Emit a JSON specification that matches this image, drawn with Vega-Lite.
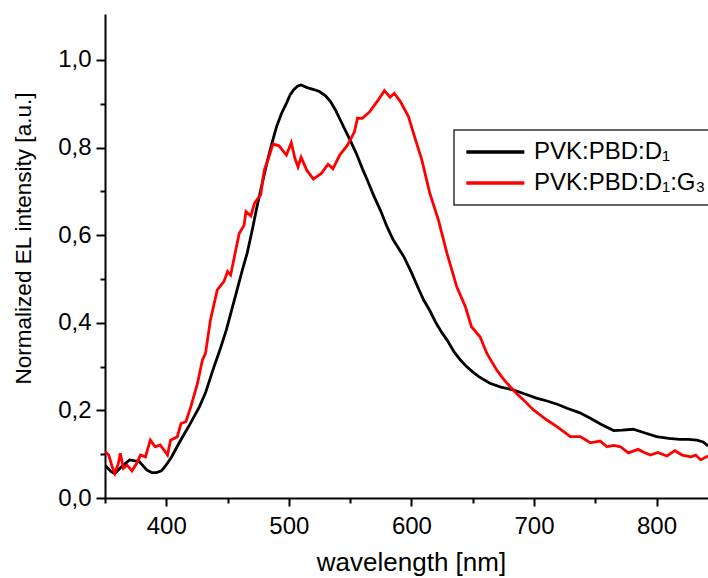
{
  "$schema": "https://vega.github.io/schema/vega-lite/v6.json",
  "width": 603,
  "height": 484,
  "autosize": "none",
  "padding": {"left": 105, "top": 14, "right": 0, "bottom": 80},
  "background": "white",
  "config": {
    "view": {"stroke": null},
    "font": "Liberation Sans",
    "axis": {"grid": false, "domainColor": "black", "domainWidth": 2, "tickColor": "black", "tickWidth": 2, "labelColor": "black", "titleColor": "black", "labelFont": "Liberation Sans", "titleFont": "Liberation Sans", "titleFontWeight": "normal"}
  },
  "datasets": {
    "spectra": [
      {"wl": 350, "v": 0.075, "s": "PVK:PBD:D₁"},
      {"wl": 355, "v": 0.060, "s": "PVK:PBD:D₁"},
      {"wl": 358, "v": 0.056, "s": "PVK:PBD:D₁"},
      {"wl": 363, "v": 0.070, "s": "PVK:PBD:D₁"},
      {"wl": 370, "v": 0.087, "s": "PVK:PBD:D₁"},
      {"wl": 378, "v": 0.083, "s": "PVK:PBD:D₁"},
      {"wl": 384, "v": 0.064, "s": "PVK:PBD:D₁"},
      {"wl": 388, "v": 0.058, "s": "PVK:PBD:D₁"},
      {"wl": 392, "v": 0.058, "s": "PVK:PBD:D₁"},
      {"wl": 396, "v": 0.062, "s": "PVK:PBD:D₁"},
      {"wl": 399, "v": 0.072, "s": "PVK:PBD:D₁"},
      {"wl": 404, "v": 0.092, "s": "PVK:PBD:D₁"},
      {"wl": 408, "v": 0.113, "s": "PVK:PBD:D₁"},
      {"wl": 413, "v": 0.138, "s": "PVK:PBD:D₁"},
      {"wl": 419, "v": 0.167, "s": "PVK:PBD:D₁"},
      {"wl": 427, "v": 0.208, "s": "PVK:PBD:D₁"},
      {"wl": 432, "v": 0.240, "s": "PVK:PBD:D₁"},
      {"wl": 438, "v": 0.292, "s": "PVK:PBD:D₁"},
      {"wl": 444, "v": 0.340, "s": "PVK:PBD:D₁"},
      {"wl": 449, "v": 0.384, "s": "PVK:PBD:D₁"},
      {"wl": 457, "v": 0.467, "s": "PVK:PBD:D₁"},
      {"wl": 462, "v": 0.520, "s": "PVK:PBD:D₁"},
      {"wl": 466, "v": 0.559, "s": "PVK:PBD:D₁"},
      {"wl": 470, "v": 0.610, "s": "PVK:PBD:D₁"},
      {"wl": 474, "v": 0.665, "s": "PVK:PBD:D₁"},
      {"wl": 478, "v": 0.715, "s": "PVK:PBD:D₁"},
      {"wl": 482, "v": 0.764, "s": "PVK:PBD:D₁"},
      {"wl": 486, "v": 0.808, "s": "PVK:PBD:D₁"},
      {"wl": 490, "v": 0.848, "s": "PVK:PBD:D₁"},
      {"wl": 494, "v": 0.878, "s": "PVK:PBD:D₁"},
      {"wl": 498, "v": 0.901, "s": "PVK:PBD:D₁"},
      {"wl": 501, "v": 0.920, "s": "PVK:PBD:D₁"},
      {"wl": 504, "v": 0.932, "s": "PVK:PBD:D₁"},
      {"wl": 507, "v": 0.940, "s": "PVK:PBD:D₁"},
      {"wl": 510, "v": 0.943, "s": "PVK:PBD:D₁"},
      {"wl": 514, "v": 0.938, "s": "PVK:PBD:D₁"},
      {"wl": 517, "v": 0.935, "s": "PVK:PBD:D₁"},
      {"wl": 521, "v": 0.932, "s": "PVK:PBD:D₁"},
      {"wl": 525, "v": 0.928, "s": "PVK:PBD:D₁"},
      {"wl": 530, "v": 0.918, "s": "PVK:PBD:D₁"},
      {"wl": 534, "v": 0.905, "s": "PVK:PBD:D₁"},
      {"wl": 538, "v": 0.886, "s": "PVK:PBD:D₁"},
      {"wl": 542, "v": 0.863, "s": "PVK:PBD:D₁"},
      {"wl": 546, "v": 0.840, "s": "PVK:PBD:D₁"},
      {"wl": 550, "v": 0.817, "s": "PVK:PBD:D₁"},
      {"wl": 555, "v": 0.787, "s": "PVK:PBD:D₁"},
      {"wl": 560, "v": 0.752, "s": "PVK:PBD:D₁"},
      {"wl": 564, "v": 0.726, "s": "PVK:PBD:D₁"},
      {"wl": 569, "v": 0.692, "s": "PVK:PBD:D₁"},
      {"wl": 575, "v": 0.655, "s": "PVK:PBD:D₁"},
      {"wl": 580, "v": 0.620, "s": "PVK:PBD:D₁"},
      {"wl": 585, "v": 0.590, "s": "PVK:PBD:D₁"},
      {"wl": 590, "v": 0.568, "s": "PVK:PBD:D₁"},
      {"wl": 594, "v": 0.550, "s": "PVK:PBD:D₁"},
      {"wl": 600, "v": 0.515, "s": "PVK:PBD:D₁"},
      {"wl": 605, "v": 0.483, "s": "PVK:PBD:D₁"},
      {"wl": 610, "v": 0.452, "s": "PVK:PBD:D₁"},
      {"wl": 615, "v": 0.428, "s": "PVK:PBD:D₁"},
      {"wl": 620, "v": 0.400, "s": "PVK:PBD:D₁"},
      {"wl": 625, "v": 0.377, "s": "PVK:PBD:D₁"},
      {"wl": 629, "v": 0.361, "s": "PVK:PBD:D₁"},
      {"wl": 635, "v": 0.333, "s": "PVK:PBD:D₁"},
      {"wl": 640, "v": 0.315, "s": "PVK:PBD:D₁"},
      {"wl": 645, "v": 0.300, "s": "PVK:PBD:D₁"},
      {"wl": 650, "v": 0.288, "s": "PVK:PBD:D₁"},
      {"wl": 655, "v": 0.277, "s": "PVK:PBD:D₁"},
      {"wl": 664, "v": 0.262, "s": "PVK:PBD:D₁"},
      {"wl": 673, "v": 0.253, "s": "PVK:PBD:D₁"},
      {"wl": 683, "v": 0.247, "s": "PVK:PBD:D₁"},
      {"wl": 692, "v": 0.238, "s": "PVK:PBD:D₁"},
      {"wl": 702, "v": 0.228, "s": "PVK:PBD:D₁"},
      {"wl": 710, "v": 0.222, "s": "PVK:PBD:D₁"},
      {"wl": 719, "v": 0.214, "s": "PVK:PBD:D₁"},
      {"wl": 727, "v": 0.205, "s": "PVK:PBD:D₁"},
      {"wl": 737, "v": 0.195, "s": "PVK:PBD:D₁"},
      {"wl": 746, "v": 0.182, "s": "PVK:PBD:D₁"},
      {"wl": 755, "v": 0.168, "s": "PVK:PBD:D₁"},
      {"wl": 765, "v": 0.154, "s": "PVK:PBD:D₁"},
      {"wl": 772, "v": 0.155, "s": "PVK:PBD:D₁"},
      {"wl": 781, "v": 0.157, "s": "PVK:PBD:D₁"},
      {"wl": 790, "v": 0.149, "s": "PVK:PBD:D₁"},
      {"wl": 800, "v": 0.140, "s": "PVK:PBD:D₁"},
      {"wl": 810, "v": 0.136, "s": "PVK:PBD:D₁"},
      {"wl": 819, "v": 0.134, "s": "PVK:PBD:D₁"},
      {"wl": 826, "v": 0.134, "s": "PVK:PBD:D₁"},
      {"wl": 833, "v": 0.132, "s": "PVK:PBD:D₁"},
      {"wl": 838, "v": 0.128, "s": "PVK:PBD:D₁"},
      {"wl": 842, "v": 0.119, "s": "PVK:PBD:D₁"},
      {"wl": 350, "v": 0.106, "s": "PVK:PBD:D₁:G₃"},
      {"wl": 353, "v": 0.098, "s": "PVK:PBD:D₁:G₃"},
      {"wl": 356, "v": 0.070, "s": "PVK:PBD:D₁:G₃"},
      {"wl": 358, "v": 0.056, "s": "PVK:PBD:D₁:G₃"},
      {"wl": 361, "v": 0.080, "s": "PVK:PBD:D₁:G₃"},
      {"wl": 362.5, "v": 0.102, "s": "PVK:PBD:D₁:G₃"},
      {"wl": 365, "v": 0.068, "s": "PVK:PBD:D₁:G₃"},
      {"wl": 368, "v": 0.075, "s": "PVK:PBD:D₁:G₃"},
      {"wl": 372, "v": 0.062, "s": "PVK:PBD:D₁:G₃"},
      {"wl": 376, "v": 0.080, "s": "PVK:PBD:D₁:G₃"},
      {"wl": 379, "v": 0.098, "s": "PVK:PBD:D₁:G₃"},
      {"wl": 383, "v": 0.094, "s": "PVK:PBD:D₁:G₃"},
      {"wl": 387, "v": 0.132, "s": "PVK:PBD:D₁:G₃"},
      {"wl": 391, "v": 0.117, "s": "PVK:PBD:D₁:G₃"},
      {"wl": 395, "v": 0.121, "s": "PVK:PBD:D₁:G₃"},
      {"wl": 398, "v": 0.110, "s": "PVK:PBD:D₁:G₃"},
      {"wl": 401, "v": 0.098, "s": "PVK:PBD:D₁:G₃"},
      {"wl": 403.5, "v": 0.132, "s": "PVK:PBD:D₁:G₃"},
      {"wl": 409, "v": 0.140, "s": "PVK:PBD:D₁:G₃"},
      {"wl": 412, "v": 0.170, "s": "PVK:PBD:D₁:G₃"},
      {"wl": 416, "v": 0.174, "s": "PVK:PBD:D₁:G₃"},
      {"wl": 420, "v": 0.208, "s": "PVK:PBD:D₁:G₃"},
      {"wl": 425.5, "v": 0.262, "s": "PVK:PBD:D₁:G₃"},
      {"wl": 429.5, "v": 0.315, "s": "PVK:PBD:D₁:G₃"},
      {"wl": 432, "v": 0.330, "s": "PVK:PBD:D₁:G₃"},
      {"wl": 436, "v": 0.406, "s": "PVK:PBD:D₁:G₃"},
      {"wl": 441.6, "v": 0.475, "s": "PVK:PBD:D₁:G₃"},
      {"wl": 447, "v": 0.494, "s": "PVK:PBD:D₁:G₃"},
      {"wl": 450, "v": 0.517, "s": "PVK:PBD:D₁:G₃"},
      {"wl": 452.5, "v": 0.509, "s": "PVK:PBD:D₁:G₃"},
      {"wl": 455, "v": 0.543, "s": "PVK:PBD:D₁:G₃"},
      {"wl": 459.5, "v": 0.604, "s": "PVK:PBD:D₁:G₃"},
      {"wl": 463.5, "v": 0.623, "s": "PVK:PBD:D₁:G₃"},
      {"wl": 465, "v": 0.654, "s": "PVK:PBD:D₁:G₃"},
      {"wl": 469, "v": 0.644, "s": "PVK:PBD:D₁:G₃"},
      {"wl": 472, "v": 0.673, "s": "PVK:PBD:D₁:G₃"},
      {"wl": 477, "v": 0.692, "s": "PVK:PBD:D₁:G₃"},
      {"wl": 480, "v": 0.749, "s": "PVK:PBD:D₁:G₃"},
      {"wl": 483, "v": 0.772, "s": "PVK:PBD:D₁:G₃"},
      {"wl": 487, "v": 0.808, "s": "PVK:PBD:D₁:G₃"},
      {"wl": 492, "v": 0.804, "s": "PVK:PBD:D₁:G₃"},
      {"wl": 498, "v": 0.783, "s": "PVK:PBD:D₁:G₃"},
      {"wl": 502, "v": 0.811, "s": "PVK:PBD:D₁:G₃"},
      {"wl": 505, "v": 0.775, "s": "PVK:PBD:D₁:G₃"},
      {"wl": 507.5, "v": 0.756, "s": "PVK:PBD:D₁:G₃"},
      {"wl": 510, "v": 0.778, "s": "PVK:PBD:D₁:G₃"},
      {"wl": 514.5, "v": 0.749, "s": "PVK:PBD:D₁:G₃"},
      {"wl": 520, "v": 0.728, "s": "PVK:PBD:D₁:G₃"},
      {"wl": 526.5, "v": 0.741, "s": "PVK:PBD:D₁:G₃"},
      {"wl": 532, "v": 0.762, "s": "PVK:PBD:D₁:G₃"},
      {"wl": 536, "v": 0.752, "s": "PVK:PBD:D₁:G₃"},
      {"wl": 541.5, "v": 0.783, "s": "PVK:PBD:D₁:G₃"},
      {"wl": 548, "v": 0.806, "s": "PVK:PBD:D₁:G₃"},
      {"wl": 553.5, "v": 0.836, "s": "PVK:PBD:D₁:G₃"},
      {"wl": 556, "v": 0.867, "s": "PVK:PBD:D₁:G₃"},
      {"wl": 560, "v": 0.867, "s": "PVK:PBD:D₁:G₃"},
      {"wl": 566, "v": 0.882, "s": "PVK:PBD:D₁:G₃"},
      {"wl": 573, "v": 0.909, "s": "PVK:PBD:D₁:G₃"},
      {"wl": 578, "v": 0.930, "s": "PVK:PBD:D₁:G₃"},
      {"wl": 582.6, "v": 0.915, "s": "PVK:PBD:D₁:G₃"},
      {"wl": 586, "v": 0.924, "s": "PVK:PBD:D₁:G₃"},
      {"wl": 591, "v": 0.905, "s": "PVK:PBD:D₁:G₃"},
      {"wl": 597.6, "v": 0.871, "s": "PVK:PBD:D₁:G₃"},
      {"wl": 603, "v": 0.821, "s": "PVK:PBD:D₁:G₃"},
      {"wl": 608.5, "v": 0.772, "s": "PVK:PBD:D₁:G₃"},
      {"wl": 615, "v": 0.696, "s": "PVK:PBD:D₁:G₃"},
      {"wl": 622, "v": 0.635, "s": "PVK:PBD:D₁:G₃"},
      {"wl": 629, "v": 0.559, "s": "PVK:PBD:D₁:G₃"},
      {"wl": 637, "v": 0.482, "s": "PVK:PBD:D₁:G₃"},
      {"wl": 644, "v": 0.437, "s": "PVK:PBD:D₁:G₃"},
      {"wl": 649, "v": 0.391, "s": "PVK:PBD:D₁:G₃"},
      {"wl": 656, "v": 0.368, "s": "PVK:PBD:D₁:G₃"},
      {"wl": 661.6, "v": 0.330, "s": "PVK:PBD:D₁:G₃"},
      {"wl": 669.7, "v": 0.292, "s": "PVK:PBD:D₁:G₃"},
      {"wl": 675, "v": 0.272, "s": "PVK:PBD:D₁:G₃"},
      {"wl": 680.6, "v": 0.254, "s": "PVK:PBD:D₁:G₃"},
      {"wl": 686, "v": 0.238, "s": "PVK:PBD:D₁:G₃"},
      {"wl": 691.5, "v": 0.224, "s": "PVK:PBD:D₁:G₃"},
      {"wl": 699.6, "v": 0.201, "s": "PVK:PBD:D₁:G₃"},
      {"wl": 705, "v": 0.190, "s": "PVK:PBD:D₁:G₃"},
      {"wl": 710.6, "v": 0.178, "s": "PVK:PBD:D₁:G₃"},
      {"wl": 718.7, "v": 0.163, "s": "PVK:PBD:D₁:G₃"},
      {"wl": 724, "v": 0.152, "s": "PVK:PBD:D₁:G₃"},
      {"wl": 729.6, "v": 0.140, "s": "PVK:PBD:D₁:G₃"},
      {"wl": 737.8, "v": 0.140, "s": "PVK:PBD:D₁:G₃"},
      {"wl": 746, "v": 0.126, "s": "PVK:PBD:D₁:G₃"},
      {"wl": 754, "v": 0.130, "s": "PVK:PBD:D₁:G₃"},
      {"wl": 759.6, "v": 0.117, "s": "PVK:PBD:D₁:G₃"},
      {"wl": 765, "v": 0.120, "s": "PVK:PBD:D₁:G₃"},
      {"wl": 770.6, "v": 0.117, "s": "PVK:PBD:D₁:G₃"},
      {"wl": 777, "v": 0.103, "s": "PVK:PBD:D₁:G₃"},
      {"wl": 785, "v": 0.111, "s": "PVK:PBD:D₁:G₃"},
      {"wl": 790, "v": 0.104, "s": "PVK:PBD:D₁:G₃"},
      {"wl": 795, "v": 0.098, "s": "PVK:PBD:D₁:G₃"},
      {"wl": 801, "v": 0.104, "s": "PVK:PBD:D₁:G₃"},
      {"wl": 808.5, "v": 0.096, "s": "PVK:PBD:D₁:G₃"},
      {"wl": 815, "v": 0.108, "s": "PVK:PBD:D₁:G₃"},
      {"wl": 821, "v": 0.098, "s": "PVK:PBD:D₁:G₃"},
      {"wl": 828, "v": 0.094, "s": "PVK:PBD:D₁:G₃"},
      {"wl": 832, "v": 0.098, "s": "PVK:PBD:D₁:G₃"},
      {"wl": 836, "v": 0.087, "s": "PVK:PBD:D₁:G₃"},
      {"wl": 842, "v": 0.096, "s": "PVK:PBD:D₁:G₃"}
    ]
  },
  "data": {"name": "spectra"},
  "mark": {"type": "line", "strokeWidth": 2.8, "clip": true},
  "encoding": {
    "x": {
      "field": "wl", "type": "quantitative",
      "scale": {"domain": [350, 842], "nice": false, "zero": false},
      "axis": {
        "title": "wavelength [nm]",
        "titleFontSize": 26,
        "titleX": 306,
        "titleY": 72,
        "titleBaseline": "alphabetic",
        "values": [350, 400, 450, 500, 550, 600, 650, 700, 750, 800],
        "labelExpr": "datum.value % 100 == 0 && datum.value > 350 ? datum.value : ''",
        "labelFontSize": 24,
        "labelPadding": 8,
        "tickSize": {"condition": {"test": "datum.value % 100 == 0", "value": 8}, "value": 5},
        "labelFlush": false,
        "labelOverlap": false
      }
    },
    "y": {
      "field": "v", "type": "quantitative",
      "scale": {"domain": [0, 1.105], "nice": false},
      "axis": {
        "title": "Normalized EL intensity [a.u.]",
        "titleFontSize": 22.5,
        "titleX": -82,
        "titleY": 224,
        "titleAngle": -90,
        "titleBaseline": "middle",
        "titleAlign": "center",
        "values": [0, 0.1, 0.2, 0.3, 0.4, 0.5, 0.6, 0.7, 0.8, 0.9, 1.0],
        "labelExpr": "round(datum.value * 10) % 2 == 0 ? replace(format(datum.value, '.1f'), '.', ',') : ''",
        "labelFontSize": 24,
        "labelPadding": 5,
        "tickSize": {"condition": {"test": "round(datum.value * 10) % 2 == 0", "value": 9}, "value": 5},
        "labelFlush": false,
        "labelOverlap": false
      }
    },
    "color": {
      "field": "s", "type": "nominal",
      "scale": {"domain": ["PVK:PBD:D₁", "PVK:PBD:D₁:G₃"], "range": ["#000000", "#ff0000"]},
      "legend": {
        "title": null,
        "orient": "none",
        "legendX": 349,
        "legendY": 116,
        "symbolType": "M-1,0H5",
        "symbolSize": 374,
        "symbolStrokeWidth": 3.5,
        "labelFontSize": 24,
        "labelFont": "Liberation Sans",
        "labelColor": "black",
        "labelOffset": 46,
        "labelLimit": 400,
        "padding": 10,
        "rowPadding": 7,
        "strokeColor": "#333333",
        "fillColor": "white",
        "encode": {"legend": {"update": {"strokeWidth": {"value": 1.5}}}}
      }
    }
  }
}
